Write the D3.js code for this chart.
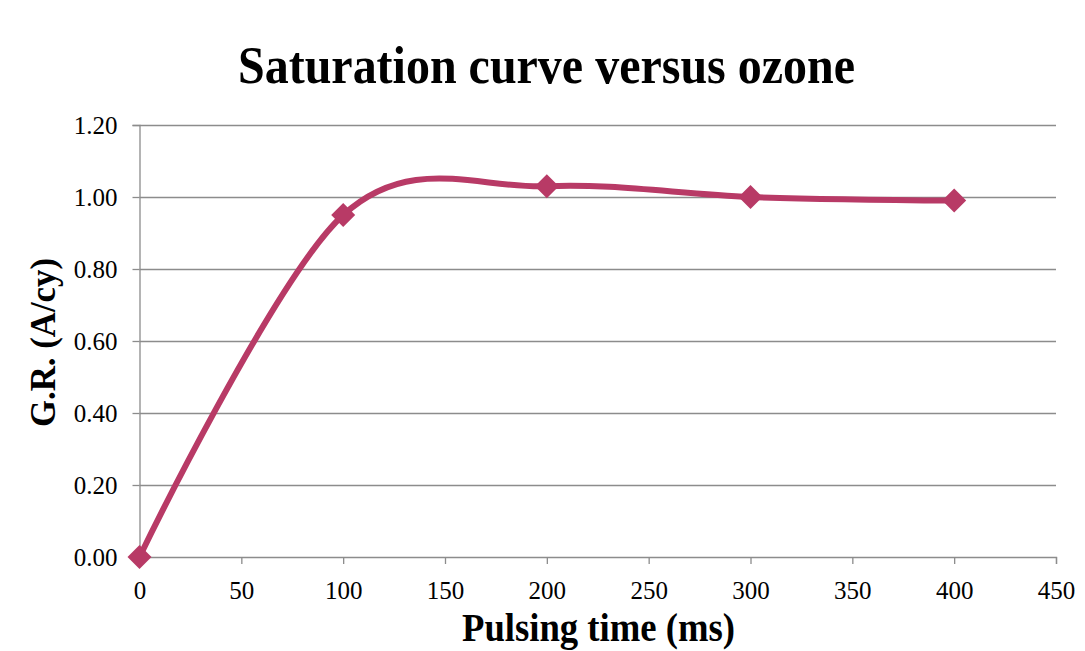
<!DOCTYPE html>
<html><head><meta charset="utf-8">
<script src="https://cdn.jsdelivr.net/npm/d3@7"></script>
<style>body{margin:0;background:#fff}svg{display:block}text{font-family:"Liberation Serif","Times New Roman",serif}</style>
</head><body>
<svg id="c" width="1085" height="651"></svg>
<script>
const pulsingTime = [0, 100, 200, 300, 400];
const growthRate = [0.00, 0.95, 1.03, 1.00, 0.99];
const xTicks = [0, 50, 100, 150, 200, 250, 300, 350, 400, 450];
const yTicks = [0, 0.2, 0.4, 0.6, 0.8, 1.0, 1.2];
const titleText = "Saturation curve versus ozone";
const xLabel = "Pulsing time (ms)";
const yLabel = "G.R. (A/cy)";

const svg = d3.select("#c");
const L = 139.5, R = 1056, T = 125, B = 557;
const x = d3.scaleLinear().domain([0, 450]).range([L, R]);
const y = d3.scaleLinear().domain([0, 1.2]).range([B, T]);
const col = "#B83A66", axc = "#8c8c8c";
const serif = '"Liberation Serif","Times New Roman",serif';

// gridlines
svg.append("g").selectAll("line").data(yTicks.filter(d => d > 0)).join("line")
  .attr("x1", L).attr("x2", R).attr("y1", d => Math.round(y(d)) + 0.5).attr("y2", d => Math.round(y(d)) + 0.5)
  .attr("stroke", axc).attr("stroke-width", 1.3);

// y axis
const ya = svg.append("g").attr("transform", `translate(${L},0)`)
  .call(d3.axisLeft(y).tickValues(yTicks).tickSize(7).tickPadding(15).tickFormat(d3.format(".2f")));
ya.selectAll("line,path").attr("stroke", axc).attr("stroke-width", 1.3);
ya.selectAll("text").attr("font-size", 25).attr("fill", "#000").style("font-family", serif);

// x axis
const xa = svg.append("g").attr("transform", `translate(0,${B})`)
  .call(d3.axisBottom(x).tickValues(xTicks).tickSize(7).tickPadding(17).tickSizeOuter(7));
xa.selectAll("line,path").attr("stroke", axc).attr("stroke-width", 1.3);
xa.selectAll("text").attr("font-size", 25).attr("fill", "#000").style("font-family", serif);

// line
const pts = pulsingTime.map((t, i) => [t, growthRate[i]]);
svg.append("path").datum(pts)
  .attr("d", d3.line().x(d => x(d[0])).y(d => y(d[1])).curve(d3.curveCardinal.tension(0)))
  .attr("fill", "none").attr("stroke", col).attr("stroke-width", 6).attr("stroke-linejoin", "round");

// markers
svg.append("g").selectAll("path").data(pts).join("path")
  .attr("transform", d => `translate(${x(d[0])},${y(d[1])})`)
  .attr("d", "M0,-12L12,0L0,12L-12,0Z").attr("fill", col);

// titles
svg.append("text").attr("x", 546.5).attr("y", 83).attr("text-anchor", "middle")
  .attr("font-size", 52).attr("font-weight", "bold")
  .attr("textLength", 617).attr("lengthAdjust", "spacingAndGlyphs").text(titleText);
svg.append("text").attr("x", 598.5).attr("y", 641).attr("text-anchor", "middle")
  .attr("font-size", 40).attr("font-weight", "bold")
  .attr("textLength", 273).attr("lengthAdjust", "spacingAndGlyphs").text(xLabel);
svg.append("text").attr("transform", "translate(55,342.5) rotate(-90)").attr("text-anchor", "middle")
  .attr("font-size", 35).attr("font-weight", "bold")
  .attr("textLength", 169).attr("lengthAdjust", "spacingAndGlyphs").text(yLabel);
</script>
</body></html>
